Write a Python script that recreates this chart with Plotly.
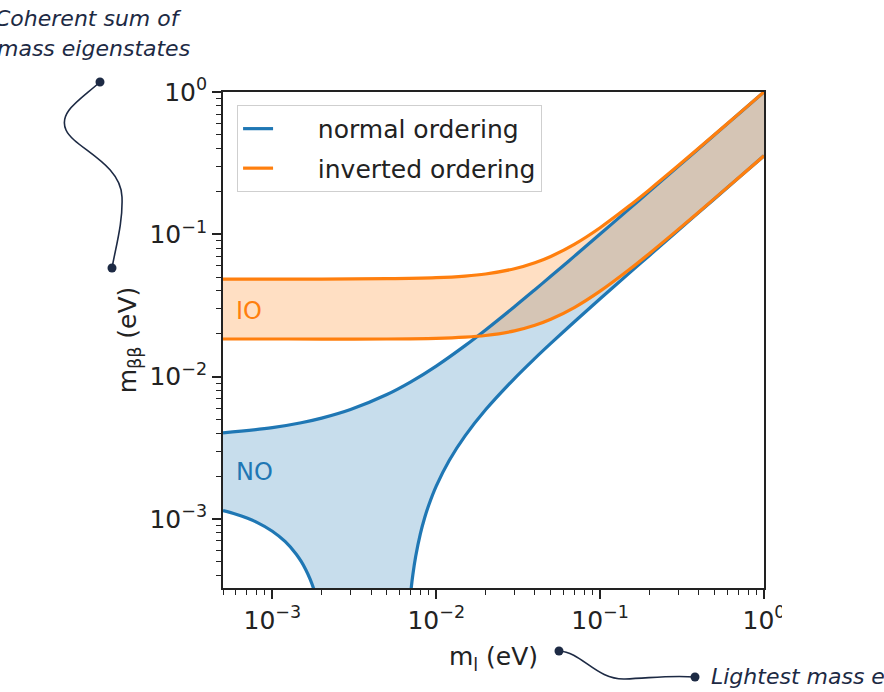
import math
import plotly.graph_objects as go

# Effective Majorana mass m_bb (eV) versus lightest neutrino mass m_l (eV)

# Normal ordering, upper edge of the band
no_upper_m = [5e-4, 1e-3, 1.5e-3, 2e-3, 3e-3, 5e-3, 7e-3, 0.01, 0.015, 0.02,
              0.03, 0.04, 0.05, 0.07, 0.1, 0.15, 0.2, 0.3, 0.5, 0.7, 1.0]
no_upper_mbb = [0.004024, 0.004376, 0.004737, 0.005106, 0.005869, 0.007481,
                0.009184, 0.01186, 0.01651, 0.02128, 0.03099, 0.04080, 0.05068,
                0.07051, 0.1004, 0.1503, 0.2002, 0.3001, 0.5001, 0.7001, 1.0000]

# Normal ordering, lower edge (left branch, then right branch after the funnel)
no_lower_m = [5e-4, 6e-4, 7e-4, 8e-4, 1e-3, 1.2e-3, 1.4e-3, 1.5e-3, 1.6e-3,
              1.7e-3, 1.8e-3, 1.9e-3,
              6.8e-3, 7e-3, 7.2e-3, 7.5e-3, 8e-3, 8.5e-3, 9e-3, 0.01, 0.012,
              0.015, 0.02, 0.03, 0.04, 0.05, 0.07, 0.1, 0.15, 0.2, 0.3, 0.5,
              0.7, 1.0]
no_lower_mbb = [1.146e-3, 1.080e-3, 1.014e-3, 9.495e-4, 8.198e-4, 6.919e-4,
                5.651e-4, 5.025e-4, 4.396e-4, 3.775e-4, 3.155e-4, 2.540e-4,
                2.107e-4, 3.081e-4, 4.048e-4, 5.490e-4, 7.860e-4, 1.019e-3,
                1.249e-3, 1.701e-3, 2.575e-3, 3.834e-3, 5.844e-3, 9.695e-3,
                0.01344, 0.01712, 0.02441, 0.03523, 0.05315, 0.07101, 0.1067,
                0.1779, 0.2491, 0.3560]

# Inverted ordering, upper and lower edges
io_m = [5e-4, 1e-3, 2e-3, 5e-3, 0.01, 0.015, 0.02, 0.03, 0.04, 0.05, 0.07,
        0.1, 0.15, 0.2, 0.3, 0.5, 0.7, 1.0]
io_upper_mbb = [0.04841, 0.04843, 0.04848, 0.04875, 0.04959, 0.05090, 0.05264,
                0.05726, 0.06311, 0.06990, 0.08538, 0.1113, 0.1578, 0.2059,
                0.3040, 0.5024, 0.7017, 1.0012]
io_lower_mbb = [0.01838, 0.01838, 0.01837, 0.01838, 0.01856, 0.01892, 0.01945,
                0.02095, 0.02293, 0.02527, 0.03068, 0.03984, 0.05631, 0.07341,
                0.1083, 0.1789, 0.2498, 0.3564]

x_tick_vals = [1e-3, 1e-2, 1e-1, 1.0]
x_tick_text = ["10<sup>\u22123</sup>", "10<sup>\u22122</sup>",
               "10<sup>\u22121</sup>", "10<sup>0</sup>"]
y_tick_vals = [1e-3, 1e-2, 1e-1, 1.0]
y_tick_text = ["10<sup>\u22123</sup>", "10<sup>\u22122</sup>",
               "10<sup>\u22121</sup>", "10<sup>0</sup>"]

X_MIN, X_MAX = 5e-4, 1.0
Y_MIN, Y_MAX = 3.27e-4, 1.0

BLUE = "#1f77b4"
ORANGE = "#ff7f0e"
BLUE_FILL = "rgba(31,119,180,0.25)"
ORANGE_FILL = "rgba(255,127,14,0.25)"
INK = "#1d2a44"

# gap between the legend swatch and its label
PAD = "\u00a0" * 5

fig = go.Figure()

# shaded bands (drawn first so the edge lines sit on top)
fig.add_trace(go.Scatter(x=no_upper_m, y=no_upper_mbb, mode="lines",
                         line=dict(width=0, shape="spline", color=BLUE),
                         showlegend=False, hoverinfo="skip"))
fig.add_trace(go.Scatter(x=no_lower_m, y=no_lower_mbb, mode="lines",
                         line=dict(width=0, shape="spline", color=BLUE),
                         fill="tonexty", fillcolor=BLUE_FILL,
                         showlegend=False, hoverinfo="skip"))
fig.add_trace(go.Scatter(x=io_m, y=io_upper_mbb, mode="lines",
                         line=dict(width=0, shape="spline", color=ORANGE),
                         showlegend=False, hoverinfo="skip"))
fig.add_trace(go.Scatter(x=io_m, y=io_lower_mbb, mode="lines",
                         line=dict(width=0, shape="spline", color=ORANGE),
                         fill="tonexty", fillcolor=ORANGE_FILL,
                         showlegend=False, hoverinfo="skip"))

# band edges
LW = 3.2
fig.add_trace(go.Scatter(x=no_upper_m, y=no_upper_mbb, mode="lines",
                         name=PAD + "normal ordering", legendgroup="no",
                         line=dict(width=LW, shape="spline", color=BLUE)))
fig.add_trace(go.Scatter(x=no_lower_m, y=no_lower_mbb, mode="lines",
                         legendgroup="no", showlegend=False,
                         line=dict(width=LW, shape="spline", color=BLUE)))
fig.add_trace(go.Scatter(x=io_m, y=io_upper_mbb, mode="lines",
                         name=PAD + "inverted ordering", legendgroup="io",
                         line=dict(width=LW, shape="spline", color=ORANGE)))
fig.add_trace(go.Scatter(x=io_m, y=io_lower_mbb, mode="lines",
                         legendgroup="io", showlegend=False,
                         line=dict(width=LW, shape="spline", color=ORANGE)))


def minor_vals(lo, hi):
    vals = []
    for e in range(-5, 1):
        for k in range(2, 10):
            v = k * 10 ** e
            if lo <= v <= hi:
                vals.append(v)
    return vals


axis_common = dict(
    type="log", showgrid=False, zeroline=False,
    showline=True, mirror=True, linecolor="#222222", linewidth=1.8,
    ticks="outside", ticklen=9, tickwidth=1.5, tickcolor="#222222",
    tickfont=dict(size=25, color="#222222"),
)

fig.update_xaxes(
    range=[math.log10(X_MIN), math.log10(X_MAX)],
    tickmode="array", tickvals=x_tick_vals, ticktext=x_tick_text,
    minor=dict(ticks="outside", ticklen=5, tickwidth=1, tickcolor="#222222",
               tickmode="array", tickvals=minor_vals(X_MIN, X_MAX)),
    title=dict(text="m<sub>l</sub> (eV)", standoff=14,
               font=dict(size=25, color="#222222")),
    **axis_common,
)
fig.update_yaxes(
    range=[math.log10(Y_MIN), math.log10(Y_MAX)],
    tickmode="array", tickvals=y_tick_vals, ticktext=y_tick_text,
    minor=dict(ticks="outside", ticklen=5, tickwidth=1, tickcolor="#222222",
               tickmode="array", tickvals=minor_vals(Y_MIN, Y_MAX)),
    title=dict(text="m<sub>\u03b2\u03b2</sub> (eV)", standoff=6,
               font=dict(size=25, color="#222222")),
    **axis_common,
)

# frame geometry in pixels, used to place decorations in paper units
L, T, W, H = 223, 92, 541, 496


def px(x):
    return (x - L) / W


def py(y):
    return (T + H - y) / H


annotations = [
    dict(x=-3.142, y=-1.539, xref="x", yref="y", text="IO", showarrow=False,
         font=dict(size=24, color=ORANGE), xanchor="center", yanchor="middle"),
    dict(x=-3.106, y=-2.670, xref="x", yref="y", text="NO", showarrow=False,
         font=dict(size=24, color=BLUE), xanchor="center", yanchor="middle"),
    dict(x=px(-7), y=py(18), xref="paper", yref="paper",
         text="Coherent sum of", showarrow=False, xanchor="left",
         yanchor="middle",
         font=dict(family="DejaVu Sans", size=22, color=INK, style="italic")),
    dict(x=px(-5), y=py(48), xref="paper", yref="paper",
         text="mass eigenstates", showarrow=False, xanchor="left",
         yanchor="middle",
         font=dict(family="DejaVu Sans", size=22, color=INK, style="italic")),
    dict(x=px(709), y=py(676), xref="paper", yref="paper",
         text="Lightest mass eigenstate", showarrow=False, xanchor="left",
         yanchor="middle",
         font=dict(family="DejaVu Sans", size=22, color=INK, style="italic")),
]


def pt(x, y):
    return f"{px(x):.5f},{py(y):.5f}"


shapes = [
    # connector from the y-axis label up to its note
    dict(type="path", xref="paper", yref="paper", layer="above",
         path=(f"M {pt(100, 82)} C {pt(80, 100)} {pt(58, 112)} {pt(66, 130)} "
               f"C {pt(74, 148)} {pt(121, 163)} {pt(122, 197)} "
               f"C {pt(123, 222)} {pt(116, 246)} {pt(112, 268)}"),
         line=dict(color=INK, width=1.6)),
    # connector from the x-axis label to its note
    dict(type="path", xref="paper", yref="paper", layer="above",
         path=(f"M {pt(559, 651)} C {pt(582, 652)} {pt(596, 680)} {pt(625, 679)} "
               f"C {pt(652, 678)} {pt(670, 675)} {pt(695, 677)}"),
         line=dict(color=INK, width=1.6)),
]
for cx, cy in [(100, 82), (112, 268), (559, 651), (695, 677)]:
    r = 4.5
    shapes.append(dict(type="circle", xref="paper", yref="paper", layer="above",
                       x0=px(cx - r), x1=px(cx + r), y0=py(cy + r), y1=py(cy - r),
                       fillcolor=INK, line=dict(color=INK, width=0)))
# the figure panel ends just right of the frame
shapes.append(dict(type="rect", xref="paper", yref="paper", layer="above",
                   x0=px(782), x1=px(900), y0=py(596), y1=py(645),
                   fillcolor="white", line=dict(width=0)))

fig.update_layout(
    width=884, height=692,
    margin=dict(l=L, r=884 - L - W, t=T, b=692 - T - H),
    paper_bgcolor="white", plot_bgcolor="white",
    font=dict(family="DejaVu Sans", size=25, color="#222222"),
    legend=dict(x=0.026, y=0.974, xanchor="left", yanchor="top",
                bgcolor="rgba(255,255,255,0.85)", bordercolor="#cfcfcf",
                borderwidth=1, font=dict(size=25, color="#222222"),
                tracegroupgap=4),
    annotations=annotations,
    shapes=shapes,
)

fig.write_html("out.html")
